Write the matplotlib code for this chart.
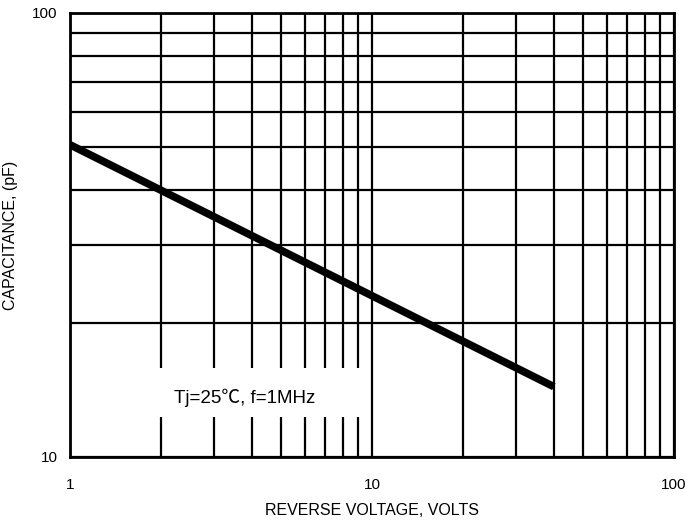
import matplotlib
matplotlib.use("Agg")
import matplotlib.pyplot as plt
from matplotlib.patches import Rectangle
import numpy as np

voltage = [1, 40]
capacitance = [50.5, 14.4]
x_ticks = [1, 10, 100]
x_labels = ["1", "10", "100"]
y_ticks = [10, 100]
y_labels = ["10", "100"]

plt.rcParams['font.family'] = ['Liberation Sans', 'Noto Sans CJK SC', 'DejaVu Sans']

fig = plt.figure(figsize=(6.89, 5.21), dpi=100)
ax = fig.add_axes([70/689, (521-457)/521, (674-70)/689, (457-13)/521])
ax.set_xscale('log')
ax.set_yscale('log')
ax.set_xlim(1, 100)
ax.set_ylim(10, 100)

ax.grid(True, which='both', color='black', linewidth=1.6, zorder=1)
ax.set_axisbelow(True)
ax.tick_params(which='both', length=0, labelsize=11)
ax.tick_params(axis='x', which='both', pad=15)
ax.tick_params(axis='y', which='both', pad=9)
ax.set_xticks(x_ticks)
ax.set_xticklabels(x_labels)
ax.set_yticks(y_ticks)
ax.set_yticklabels(y_labels)
ax.xaxis.set_minor_formatter(matplotlib.ticker.NullFormatter())
ax.yaxis.set_minor_formatter(matplotlib.ticker.NullFormatter())
for s in ax.spines.values():
    s.set_linewidth(2)
    s.set_color('black')

ax.add_patch(Rectangle((0.05, 0.09), 0.44, 0.11, transform=ax.transAxes,
                       facecolor='white', edgecolor='none', zorder=2))
ax.text(0.172, 0.122, "Tj=25\u2103, f=1MHz", transform=ax.transAxes,
        fontsize=13.5, va='baseline', ha='left', zorder=3)

ax.plot(voltage, capacitance, color='black', linewidth=5.5,
        solid_capstyle='butt', zorder=4)

ax.set_xlabel("REVERSE VOLTAGE, VOLTS", fontsize=11.5, labelpad=8)
ax.set_ylabel("CAPACITANCE, (pF)", fontsize=11.5, labelpad=10)

fig.savefig("out.png", dpi=100)
